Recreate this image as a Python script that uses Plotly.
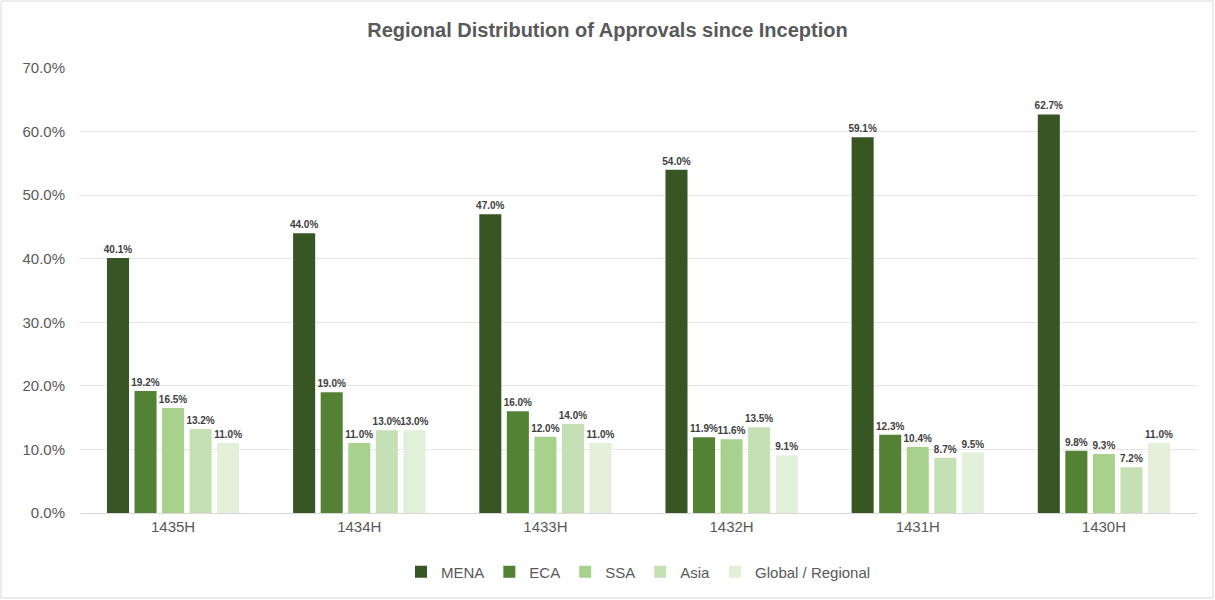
import plotly.graph_objects as go

years = ["1435H", "1434H", "1433H", "1432H", "1431H", "1430H"]
mena = [40.1, 44.0, 47.0, 54.0, 59.1, 62.7]
eca = [19.2, 19.0, 16.0, 11.9, 12.3, 9.8]
ssa = [16.5, 11.0, 12.0, 11.6, 10.4, 9.3]
asia = [13.2, 13.0, 14.0, 13.5, 8.7, 7.2]
global_regional = [11.0, 13.0, 11.0, 9.1, 9.5, 11.0]

series = [
    ("MENA", mena, "#375623"),
    ("ECA", eca, "#548235"),
    ("SSA", ssa, "#A9D18E"),
    ("Asia", asia, "#C5E0B4"),
    ("Global / Regional", global_regional, "#E2F0D9"),
]

fig = go.Figure()
for name, vals, color in series:
    fig.add_trace(go.Bar(
        name=name,
        x=years,
        y=vals,
        marker=dict(color=color, line=dict(width=0)),
        text=[f"<b>{v:.1f}%</b>" for v in vals],
        textposition="outside",
        constraintext="none",
        textfont=dict(family="Liberation Sans, Arial", size=10, color="#404040"),
        cliponaxis=False,
    ))

L, R, T, B = 80, 18, 68, 87
W, H = 1215, 600
pw, ph = W - L - R, H - T - B

fig.update_layout(
    width=W, height=H,
    margin=dict(l=L, r=R, t=T, b=B),
    paper_bgcolor="white",
    plot_bgcolor="white",
    barmode="group",
    bargap=0.26,
    bargroupgap=0.2,
    font=dict(family="Liberation Sans, Arial", color="#595959"),
    title=dict(
        text="<b>Regional Distribution of Approvals since Inception</b>",
        x=0.5, xanchor="center", y=1 - 30 / H, yanchor="middle",
        font=dict(size=20, color="#595959"),
    ),
    xaxis=dict(
        showline=True, linecolor="#D9D9D9", linewidth=1,
        tickfont=dict(size=15, color="#595959"),
        ticks="", showgrid=False,
    ),
    yaxis=dict(
        range=[0, 70], dtick=10, tickformat=".1f", ticksuffix="%",
        showgrid=True, gridcolor="#E6E6E6", gridwidth=1,
        zeroline=False, showline=False,
        tickfont=dict(size=15, color="#595959"),
        ticks="", ticklabelstandoff=14,
    ),
    legend=dict(
        orientation="h", x=0.5, xanchor="center",
        y=-(572 - (T + ph)) / ph, yanchor="middle",
        font=dict(size=15, color="#595959"),
        itemwidth=30, traceorder="normal",
    ),
    shapes=[dict(
        type="rect", xref="paper", yref="paper",
        x0=(1 - L) / pw, x1=(W - 2 - L) / pw,
        y0=-(H - 2 - (T + ph)) / ph, y1=(T + ph - 1) / ph,
        line=dict(color="#D9D9D9", width=1), layer="below",
    )],
)

fig.write_html("out.html")
